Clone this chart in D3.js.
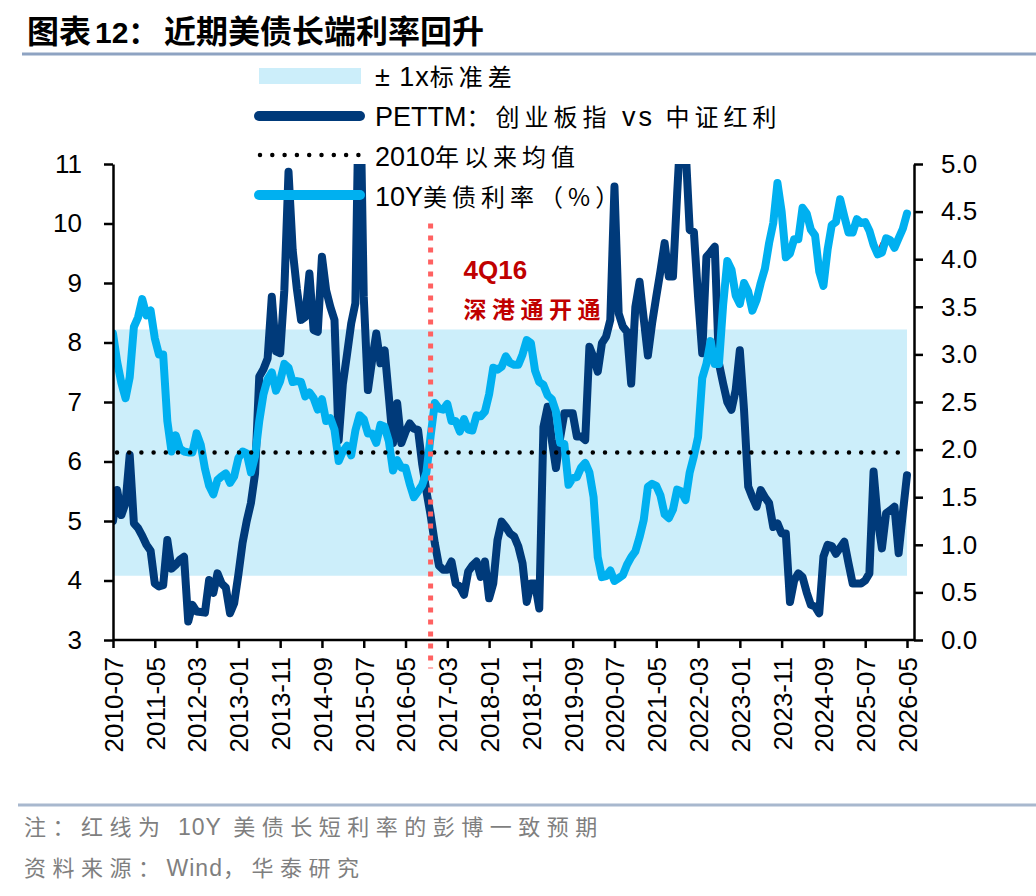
<!DOCTYPE html>
<html>
<head>
<meta charset="utf-8">
<script src="https://cdn.jsdelivr.net/npm/d3@7"></script>
<style>
  body { margin: 0; background: #fff; }
  svg { display: block; }
</style>
</head>
<body>
<div id="chart"></div>
<script>
// ---- data ----
var startYear = 2010, startMon = 7;   // first category 2010-07, monthly

// PETTM ratio: ChiNext vs CSI Dividend (left axis)
var pe = [
  5.00, 5.52, 5.10, 5.30, 6.11, 4.96, 4.88, 4.75, 4.60, 4.50,
  3.95, 3.90, 3.92, 4.68, 4.20, 4.26, 4.35, 4.40, 3.31, 3.59,
  3.48, 3.47, 3.46, 4.01, 3.79, 4.12, 3.95, 3.88, 3.45, 3.62,
  4.10, 4.63, 5.00, 5.30, 5.80, 7.43, 7.55, 7.73, 8.77, 7.85,
  7.82, 8.88, 10.87, 9.55, 8.90, 8.38, 8.43, 9.16, 8.21, 8.18,
  9.44, 8.88, 8.60, 8.38, 6.36, 7.30, 7.80, 8.32, 8.66, 13.0,
  8.77, 7.20, 7.70, 8.15, 7.65, 7.87, 7.10, 6.31, 6.98, 6.31,
  6.50, 6.64, 6.55, 6.53, 5.95, 5.50, 5.10, 4.63, 4.25, 4.18,
  4.18, 4.32, 3.95, 3.90, 3.76, 4.15, 4.25, 4.32, 4.06, 4.32,
  3.70, 3.95, 4.68, 4.99, 4.90, 4.79, 4.74, 4.57, 4.29, 3.64,
  3.95, 3.95, 3.53, 6.58, 6.92, 6.36, 5.89, 6.40, 6.81, 6.81,
  6.81, 6.42, 6.42, 6.36, 7.93, 7.75, 7.51, 7.99, 8.10, 8.38,
  10.62, 8.49, 8.27, 8.18, 7.31, 8.60, 9.02, 8.40, 7.78, 8.32,
  8.77, 9.20, 9.67, 9.11, 9.11, 10.50, 11.80, 11.30, 9.89, 9.86,
  8.77, 7.82, 9.44, 9.52, 9.61, 7.65, 7.31, 7.00, 6.87, 7.20,
  7.87, 6.87, 5.58, 5.40, 5.24, 5.52, 5.40, 5.30, 4.90, 4.96,
  4.79, 4.79, 3.64, 4.00, 4.12, 4.06, 3.80, 3.59, 3.56, 3.45,
  4.40, 4.60, 4.58, 4.45, 4.55, 4.65, 4.29, 3.95, 3.95, 3.95,
  4.00, 4.12, 5.83, 5.02, 4.54, 5.13, 5.18, 5.24, 4.46, 5.13,
  5.77
];

// US 10Y treasury yield, % (right axis)
var ust10y = [
  3.22, 2.92, 2.70, 2.54, 2.76, 3.29, 3.39, 3.58, 3.41, 3.46,
  3.17, 3.00, 3.00, 2.30, 1.98, 2.15, 2.01, 1.98, 1.97, 1.97,
  2.17, 2.05, 1.80, 1.62, 1.53, 1.68, 1.72, 1.75, 1.65, 1.72,
  1.91, 1.98, 1.96, 1.76, 1.93, 2.30, 2.58, 2.74, 2.81, 2.62,
  2.72, 2.90, 2.86, 2.71, 2.72, 2.71, 2.56, 2.60, 2.54, 2.42,
  2.53, 2.30, 2.33, 2.21, 1.88, 1.98, 2.04, 1.94, 2.20, 2.36,
  2.32, 2.17, 2.17, 2.07, 2.26, 2.24, 2.09, 1.78, 1.89, 1.81,
  1.81, 1.64, 1.50, 1.56, 1.63, 1.76, 2.14, 2.49, 2.43, 2.42,
  2.48, 2.30, 2.30, 2.19, 2.32, 2.21, 2.20, 2.36, 2.35, 2.40,
  2.58, 2.86, 2.84, 2.87, 2.98, 2.91, 2.89, 2.89, 3.00, 3.15,
  3.12, 2.83, 2.71, 2.68, 2.57, 2.53, 2.40, 2.07, 2.06, 1.63,
  1.70, 1.71, 1.81, 1.86, 1.76, 1.50, 0.87, 0.66, 0.67, 0.73,
  0.62, 0.65, 0.68, 0.79, 0.87, 0.93, 1.08, 1.26, 1.61, 1.64,
  1.62, 1.52, 1.32, 1.28, 1.37, 1.58, 1.56, 1.47, 1.76, 1.93,
  2.13, 2.75, 2.90, 3.14, 2.90, 2.90, 3.52, 3.98, 3.89, 3.62,
  3.53, 3.75, 3.66, 3.46, 3.57, 3.75, 3.90, 4.17, 4.38, 4.80,
  4.50, 4.02, 4.06, 4.21, 4.21, 4.54, 4.48, 4.31, 4.25, 3.87,
  3.72, 4.10, 4.36, 4.39, 4.63, 4.45, 4.28, 4.28, 4.42, 4.38,
  4.39, 4.30, 4.15, 4.05, 4.07, 4.22, 4.20, 4.12, 4.22, 4.32,
  4.48
];

// Bloomberg consensus (red line, mostly hidden under the blue line)
var forecastMonths = ["2025-10", "2025-11", "2025-12"];
var forecastValues = [4.05, 4.16, 4.22];

var peMean = 6.15, peStd = 2.07;
var eventMonth = "2016-11";

var tickLabels = ["2010-07","2011-05","2012-03","2013-01","2013-11","2014-09","2015-07",
  "2016-05","2017-03","2018-01","2018-11","2019-09","2020-07","2021-05","2022-03",
  "2023-01","2023-11","2024-09","2025-07","2026-05"];
var leftTicks = [3, 4, 5, 6, 7, 8, 9, 10, 11];
var rightTicks = [0, 0.5, 1, 1.5, 2, 2.5, 3, 3.5, 4, 4.5, 5];

// build the month categories
var months = [];
(function() {
  var y = startYear, m = startMon;
  for (var k = 0; k < pe.length; k++) {
    months.push(y + "-" + (m < 10 ? "0" + m : m));
    m++; if (m > 12) { m = 1; y++; }
  }
})();

// ---- layout ----
var W = 1036, H = 896;
var plot = {left: 113, right: 914, top: 164, bottom: 640};
var latin = "'Liberation Sans', Arial, 'Noto Sans CJK SC', sans-serif";
var cjk = "'Noto Sans CJK SC', 'Liberation Sans', sans-serif";

var svg = d3.select("#chart").append("svg")
  .attr("width", W).attr("height", H);

var x = d3.scalePoint().domain(months).range([plot.left, 907]);
var yL = d3.scaleLinear().domain([3, 11]).range([plot.bottom, plot.top]);
var yR = d3.scaleLinear().domain([0, 5]).range([plot.bottom, plot.top]);

svg.append("clipPath").attr("id", "clip")
  .append("rect")
    .attr("x", plot.left).attr("y", plot.top)
    .attr("width", plot.right - plot.left).attr("height", plot.bottom - plot.top);

// title
svg.append("text")
  .attr("x", 27).attr("y", 43)
  .style("font-family", cjk).style("font-weight", 700).style("font-size", "32px")
  .text("图表");
svg.append("text")
  .attr("x", 95).attr("y", 43)
  .style("font-family", latin).style("font-weight", 700).style("font-size", "30px")
  .text("12：");
svg.append("text")
  .attr("x", 164).attr("y", 43)
  .style("font-family", cjk).style("font-weight", 700).style("font-size", "32px")
  .text("近期美债长端利率回升");
svg.append("line")
  .attr("x1", 22).attr("x2", W).attr("y1", 54).attr("y2", 54)
  .attr("stroke", "#8EA3C2").attr("stroke-width", 3);

// ±1 std band
var band = d3.area()
  .x(function(d) { return x(d); })
  .y0(yL(peMean - peStd))
  .y1(yL(peMean + peStd));
svg.append("path")
  .datum(months)
  .attr("d", band)
  .attr("fill", "#CCEEFA");

var g = svg.append("g").attr("clip-path", "url(#clip)");

// PE line
var linePE = d3.line()
  .x(function(d, i) { return x(months[i]); })
  .y(function(d) { return yL(d); });
g.append("path")
  .datum(pe)
  .attr("d", linePE)
  .attr("fill", "none")
  .attr("stroke", "#003A7A")
  .attr("stroke-width", 8)
  .attr("stroke-linejoin", "round")
  .attr("stroke-linecap", "round");

// mean since 2010 (dotted)
svg.append("line")
  .attr("x1", x(months[0]) + 4).attr("x2", x(months[months.length - 1]))
  .attr("y1", yL(peMean)).attr("y2", yL(peMean))
  .attr("stroke", "#000")
  .attr("stroke-width", 4.5)
  .attr("stroke-linecap", "round")
  .attr("stroke-dasharray", "0,12.2");

// consensus forecast (red)
g.append("path")
  .datum(forecastValues)
  .attr("d", d3.line()
    .x(function(d, i) { return x(forecastMonths[i]); })
    .y(function(d) { return yR(d); }))
  .attr("fill", "none")
  .attr("stroke", "#FF0000")
  .attr("stroke-width", 4);

// US 10Y line
var line10 = d3.line()
  .x(function(d, i) { return x(months[i]); })
  .y(function(d) { return yR(d); });
g.append("path")
  .datum(ust10y)
  .attr("d", line10)
  .attr("fill", "none")
  .attr("stroke", "#00B0F0")
  .attr("stroke-width", 8)
  .attr("stroke-linejoin", "round")
  .attr("stroke-linecap", "round");

// event marker 4Q16
svg.append("line")
  .attr("x1", x(eventMonth)).attr("x2", x(eventMonth))
  .attr("y1", yL(10)).attr("y2", yL(2.52))
  .attr("stroke", "#FF6161")
  .attr("stroke-width", 5)
  .attr("stroke-dasharray", "5,7");
svg.append("text")
  .attr("x", x(eventMonth) + 33).attr("y", yL(9.0) - 4)
  .style("font-family", latin).style("font-weight", 700).style("font-size", "26px")
  .style("fill", "#C00000")
  .text("4Q16");
svg.append("text")
  .attr("x", x(eventMonth) + 33).attr("y", yL(8.4) - 1)
  .style("font-family", cjk).style("font-weight", 700).style("font-size", "23px")
  .style("letter-spacing", "5.5px")
  .style("fill", "#C00000")
  .text("深港通开通");

// axes
function styleAxis(sel) {
  sel.select(".domain").attr("stroke", "#000").attr("stroke-width", 2.5);
  sel.selectAll(".tick line").attr("stroke", "#000").attr("stroke-width", 2.5);
  sel.selectAll("text").style("font-family", latin).style("font-size", "26px").attr("fill", "#000");
}

var axL = svg.append("g")
  .attr("transform", "translate(" + plot.left + ",0)")
  .call(d3.axisLeft(yL).tickValues(leftTicks).tickSize(9).tickSizeOuter(0).tickPadding(22)
    .tickFormat(d3.format("d")));
styleAxis(axL);

var axR = svg.append("g")
  .attr("transform", "translate(" + plot.right + ",0)")
  .call(d3.axisRight(yR).tickValues(rightTicks).tickSize(9).tickSizeOuter(0).tickPadding(18)
    .tickFormat(d3.format(".1f")));
styleAxis(axR);

var axB = svg.append("g")
  .attr("transform", "translate(0," + plot.bottom + ")")
  .call(d3.axisBottom(x).tickValues(tickLabels).tickSize(8).tickSizeOuter(0));
axB.select(".domain").attr("d", "M" + plot.left + ",0H" + plot.right);
styleAxis(axB);
axB.selectAll("text")
  .attr("transform", "rotate(-90)")
  .attr("x", -17).attr("y", 0).attr("dy", "0.36em")
  .style("text-anchor", "end");

// legend
var leg = svg.append("g");
function legendText(yc, parts) {
  var t = leg.append("text").attr("x", 375).attr("y", yc + 10);
  parts.forEach(function(p) {
    var s = t.append("tspan").text(p[0]);
    if (p[1]) {
      s.style("font-family", cjk).style("font-size", "24px").style("letter-spacing", "5px");
    } else {
      s.style("font-family", latin).style("font-size", "27px").style("letter-spacing", p[2] || "0px");
    }
  });
}
leg.append("rect").attr("x", 259).attr("y", 68).attr("width", 102).attr("height", 16)
  .attr("fill", "#CCEEFA");
legendText(76, [["± 1x", false, "1px"], ["标准差", true]]);

leg.append("line").attr("x1", 259).attr("x2", 360).attr("y1", 116).attr("y2", 116)
  .attr("stroke", "#003A7A").attr("stroke-width", 10).attr("stroke-linecap", "round");
legendText(116, [["PETTM", false], ["：创业板指", true], [" vs ", false, "3px"], ["中证红利", true]]);

leg.append("line").attr("x1", 260).attr("x2", 359).attr("y1", 155).attr("y2", 155)
  .attr("stroke", "#000").attr("stroke-width", 4.5).attr("stroke-linecap", "round")
  .attr("stroke-dasharray", "0,12.3");
legendText(156, [["2010", false], ["年以来均值", true]]);

leg.append("line").attr("x1", 259).attr("x2", 360).attr("y1", 195).attr("y2", 195)
  .attr("stroke", "#00B0F0").attr("stroke-width", 10).attr("stroke-linecap", "round");
legendText(196, [["10Y", false], ["美债利率（%）", true]]);

// footer
svg.append("line")
  .attr("x1", 18).attr("x2", W).attr("y1", 805).attr("y2", 805)
  .attr("stroke", "#A8B8CE").attr("stroke-width", 3);
function footText(yb, parts) {
  var t = svg.append("text").attr("x", 24).attr("y", yb).style("fill", "#7F7F7F");
  parts.forEach(function(p) {
    var s = t.append("tspan").text(p[0]);
    if (p[1]) {
      s.style("font-family", cjk).style("font-size", "22px").style("letter-spacing", "6.5px");
    } else {
      s.style("font-family", latin).style("font-size", "23px").style("letter-spacing", "1px");
    }
  });
}
footText(835, [["注：红线为 ", true], ["10Y", false], [" 美债长短利率的彭博一致预期", true]]);
footText(876, [["资料来源：", true], ["Wind", false], ["，华泰研究", true]]);
</script>
</body>
</html>
